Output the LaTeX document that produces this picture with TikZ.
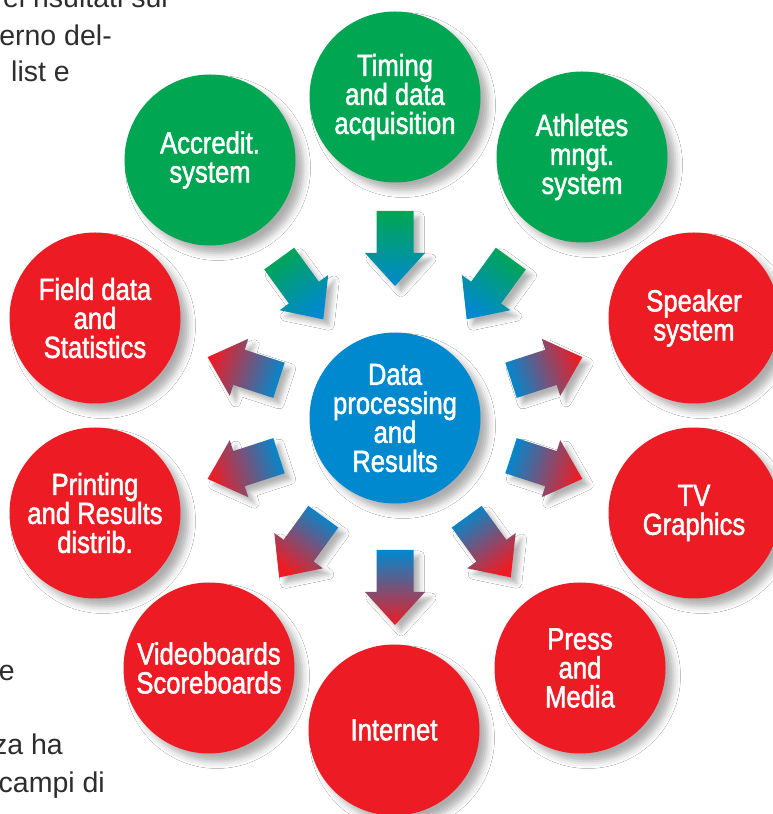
\documentclass[tikz,border=0pt]{standalone}
\usepackage{fontspec}
\setmainfont{Liberation Sans}
\newfontfamily\condfont{Liberation Sans}[FakeStretch=0.84,FakeBold=1.6]
\usetikzlibrary{calc,shadows.blur}
\definecolor{agreen}{RGB}{0,166,81}
\definecolor{ablue}{RGB}{0,137,207}
\definecolor{ared}{RGB}{237,28,36}
\definecolor{paragray}{RGB}{45,45,45}
\tikzset{
  bubble/.style={circle, minimum size=171pt, inner sep=0pt, text=white, align=center,
    font=\condfont\fontsize{30.5}{29}\selectfont,
    blur shadow={shadow xshift=8pt, shadow yshift=-8pt, shadow blur radius=7pt, shadow opacity=32}},
  gbub/.style={bubble, fill=agreen},
  rbub/.style={bubble, fill=ared},
  bbub/.style={bubble, fill=ablue},
  para/.style={anchor=base east, inner sep=0pt, text=paragray, font=\fontsize{28.5}{36}\selectfont},
  arrshadow/.style={blur shadow={shadow xshift=6pt, shadow yshift=-6pt, shadow blur radius=5pt, shadow opacity=30}}
}
\begin{document}
\begin{tikzpicture}[x=1pt,y=1pt]
\useasboundingbox (0,0) rectangle (773,814);
\fill[white] (0,0) rectangle (773,814);

% paragraph fragments on the left
\node[para] (p1) at (168,806) {ei risultati sul};
\node[para] (p2) at (112,768) {erno del-};
\node[para] (p3) at (70,732) {list e};
\node[para] (p4) at (15,133) {e};
\node[para] (p5) at (63,59) {za ha};
\node[para] (p6) at (105,21) {campi di};

% arrows
\coordinate (O) at (395,396);
\foreach \ang/\bk/\tp/\cb/\ct in {
   90/207/132/agreen/ablue,
  126/197/122/agreen/ablue,
   54/197/122/agreen/ablue,
   18/122/197/ablue/ared,
  -18/122/197/ablue/ared,
  -54/122/197/ablue/ared,
  -90/132/207/ablue/ared,
 -126/122/197/ablue/ared,
 -162/122/197/ablue/ared,
  162/122/197/ablue/ared}{
  \pgfmathsetmacro\nk{\tp-33*(\tp-\bk)/75}
  \pgfmathsetmacro\al{\ang+90}
  \pgfmathsetmacro\ar{\ang-90}
  \pgfmathsetmacro\sa{(\tp>\bk) ? (\ang-90) : (\ang+90)}
  \shade[arrshadow, top color=\ct, bottom color=\cb, shading angle=\sa]
    ($(O)+(\ang:\bk)+(\al:18.5)$) -- ($(O)+(\ang:\nk)+(\al:18.5)$) --
    ($(O)+(\ang:\nk)+(\al:30)$) -- ($(O)+(\ang:\tp)$) --
    ($(O)+(\ang:\nk)+(\ar:30)$) -- ($(O)+(\ang:\nk)+(\ar:18.5)$) --
    ($(O)+(\ang:\bk)+(\ar:18.5)$) -- cycle;
}

% circles
\node[bbub] (center) at (395,396) {Data\\processing\\and\\Results};
\node[gbub] (timing) at (395,717) {Timing\\and data\\acquisition};
\node[gbub] (athletes) at (582,657) {Athletes\\mngt.\\system};
\node[gbub] (accredit) at (210,654) {Accredit.\\system};
\node[rbub] (speaker) at (694,496) {Speaker\\system};
\node[rbub] (tv) at (694,301) {TV\\Graphics};
\node[rbub] (press) at (580,146) {Press\\and\\Media};
\node[rbub] (internet) at (394,84) {Internet};
\node[rbub] (video) at (209,146) {Videoboards\\Scoreboards};
\node[rbub] (printing) at (95,301) {Printing\\and Results\\distrib.};
\node[rbub] (field) at (95,496) {Field data\\and\\Statistics};
\end{tikzpicture}
\end{document}
